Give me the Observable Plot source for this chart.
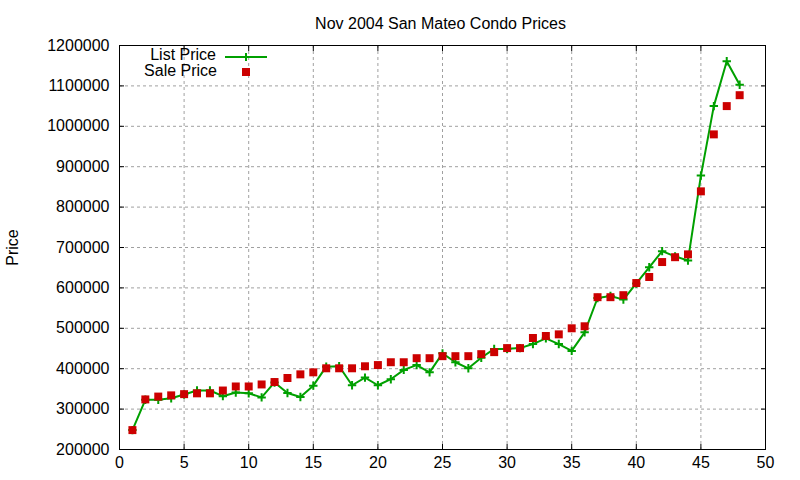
<!DOCTYPE html>
<html>
<head>
<meta charset="utf-8">
<script src="https://cdn.jsdelivr.net/npm/d3@7"></script>
<script src="https://cdn.jsdelivr.net/npm/@observablehq/plot@0.6"></script>
<style>
  html, body { margin: 0; padding: 0; background: white; }
  #wrap { position: relative; width: 800px; height: 480px; font-family: "Liberation Sans", Arial, sans-serif; }
  #legend { position: absolute; left: 0; top: 0; pointer-events: none; }
</style>
</head>
<body>
<div id="wrap"></div>
<script>
const titleText = "Nov 2004 San Mateo Condo Prices";
const yLabel = "Price";
const seriesNames = ["List Price", "Sale Price"];
const listingNo = [1,2,3,4,5,6,7,8,9,10,11,12,13,14,15,16,17,18,19,20,21,22,23,24,25,26,27,28,29,30,31,32,33,34,35,36,37,38,39,40,41,42,43,44,45,46,47,48];
const listPrice = [248000, 323000, 323000, 327000, 336000, 346000, 346000, 332000, 341000, 339000, 329000, 366000, 340000, 330000, 358000, 405000, 406000, 359000, 378000, 359000, 374000, 397000, 409000, 391000, 438000, 416000, 401000, 427000, 449000, 449000, 451000, 461000, 475000, 461000, 444000, 490000, 575000, 580000, 571000, 611000, 651000, 691000, 678000, 668000, 878000, 1050000, 1161000, 1103000];
const salePrice = [248000, 324000, 331000, 334000, 337000, 339000, 339000, 346000, 356000, 356000, 361000, 367000, 377000, 386000, 391000, 401000, 401000, 401000, 406000, 409000, 416000, 416000, 426000, 426000, 431000, 431000, 431000, 436000, 441000, 451000, 451000, 476000, 481000, 485000, 500000, 505000, 577000, 577000, 582000, 612000, 627000, 664000, 676000, 683000, 839000, 980000, 1050000, 1077000];
const xTicks = [0, 5, 10, 15, 20, 25, 30, 35, 40, 45, 50];
const yTicks = [200000, 300000, 400000, 500000, 600000, 700000, 800000, 900000, 1000000, 1100000, 1200000];

const green = "#00a000";
const red = "#cc0000";
const gridColor = "#a0a0a0";
const font = "16px";

const data = listingNo.map((n, i) => ({n, list: listPrice[i], sale: salePrice[i]}));

const plusSymbol = {
  draw(context, size) {
    const r = Math.sqrt(size / Math.PI);
    context.moveTo(-r, 0); context.lineTo(r, 0);
    context.moveTo(0, -r); context.lineTo(0, r);
  }
};

const chart = Plot.plot({
  width: 800,
  height: 480,
  marginLeft: 119,
  marginRight: 35,
  marginTop: 45,
  marginBottom: 31,
  style: {fontFamily: "'Liberation Sans', Arial, sans-serif", fontSize: font, background: "white", color: "black"},
  x: {domain: [0, 50]},
  y: {domain: [200000, 1200000]},
  marks: [
    Plot.gridX(xTicks, {stroke: gridColor, strokeOpacity: 1, strokeDasharray: "3,3"}),
    Plot.gridY(yTicks, {stroke: gridColor, strokeOpacity: 1, strokeDasharray: "3,3"}),
    Plot.axisX(xTicks, {anchor: "bottom", tickSize: 0, tickPadding: 7, label: null, fontSize: font}),
    Plot.axisX(xTicks, {anchor: "bottom", tickSize: 5, dy: -5, tickFormat: () => "", label: null}),
    Plot.axisX(xTicks, {anchor: "top", tickSize: 5, dy: 5, tickFormat: () => "", label: null}),
    Plot.axisY(yTicks, {anchor: "left", tickSize: 0, tickPadding: 10, tickFormat: d => String(d), label: null, fontSize: font}),
    Plot.axisY(yTicks, {anchor: "left", tickSize: 5, dx: 5, tickFormat: () => "", label: null}),
    Plot.axisY(yTicks, {anchor: "right", tickSize: 5, dx: -5, tickFormat: () => "", label: null}),
    Plot.frame({stroke: "black"}),
    Plot.line(data, {x: "n", y: "list", stroke: green, strokeWidth: 2}),
    Plot.dot(data, {x: "n", y: "list", symbol: plusSymbol, stroke: green, strokeWidth: 2, r: 4.2}),
    Plot.dot(data, {x: "n", y: "sale", symbol: "square", fill: red, r: 4.5}),
    Plot.text([titleText], {frameAnchor: "top", dx: -2, dy: -17, lineAnchor: "bottom", fontSize: font}),
    Plot.text([yLabel], {frameAnchor: "left", textAnchor: "middle", lineAnchor: "middle", dx: -107, rotate: -90, fontSize: font})
  ]
});

const wrap = document.getElementById("wrap");
wrap.appendChild(chart);

// Legend overlay (top-left inside plot area)
const lg = d3.select(wrap).append("svg")
  .attr("id", "legend").attr("width", 800).attr("height", 480)
  .style("font-family", "'Liberation Sans', Arial, sans-serif").style("font-size", font);
lg.append("text").attr("x", 216).attr("y", 60).attr("text-anchor", "end").text(seriesNames[0]);
lg.append("text").attr("x", 217).attr("y", 76).attr("text-anchor", "end").text(seriesNames[1]);
lg.append("line").attr("x1", 225).attr("x2", 267).attr("y1", 57).attr("y2", 57)
  .attr("stroke", green).attr("stroke-width", 2);
lg.append("path").attr("d", "M242,57H250M246,53V61").attr("stroke", green).attr("stroke-width", 2);
lg.append("rect").attr("x", 242).attr("y", 68).attr("width", 8).attr("height", 8).attr("fill", red);
</script>
</body>
</html>
